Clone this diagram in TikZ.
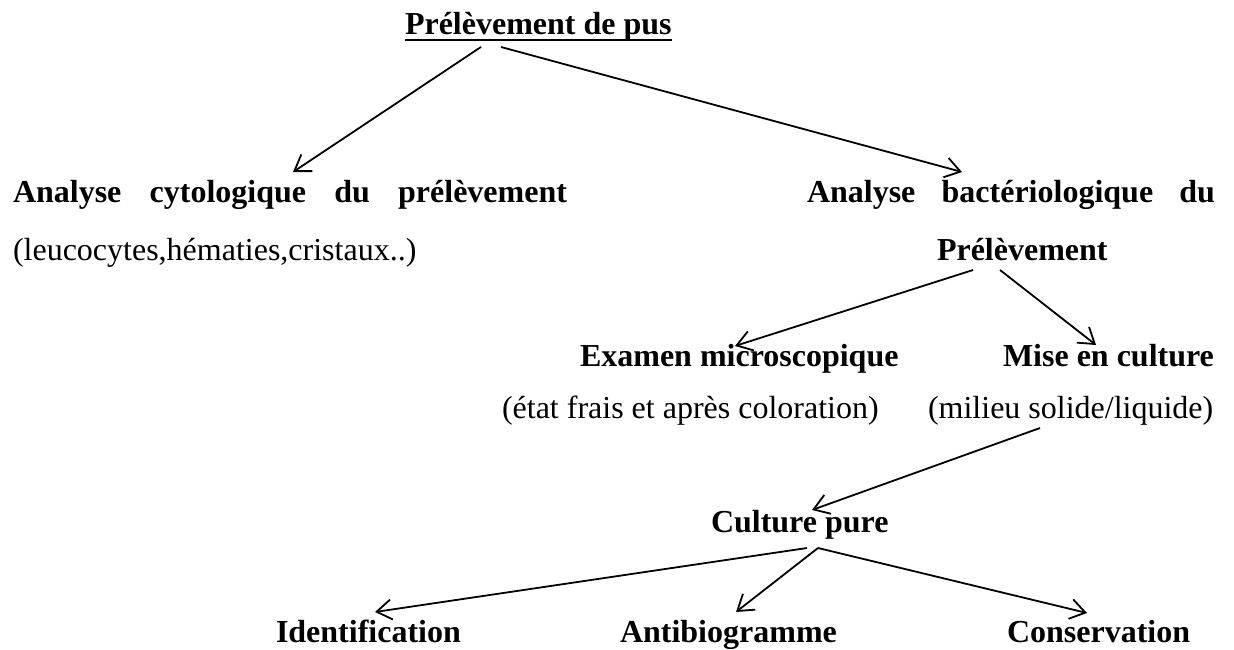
\documentclass[tikz,border=0pt]{standalone}
\usepackage{fontspec}
\setmainfont{Liberation Serif}
\usetikzlibrary{arrows.meta}
\begin{document}
\begin{tikzpicture}[x=1pt,y=-1pt,
  txt/.style={anchor=base west,inner sep=0pt,outer sep=0pt,font=\fontsize{32pt}{38pt}\selectfont},
  bold/.style={txt,font=\fontsize{32pt}{38pt}\selectfont\bfseries},
  arr/.style={line width=1.8pt,-{Straight Barb[length=15pt,width=20pt,line width=1.8pt]}}]
\useasboundingbox (0,0) rectangle (1234,650);
\fill[white] (0,0) rectangle (1234,650);
% nodes
\node[bold] (title) at (405,35) {Prélèvement de pus};
\draw[line width=2.4pt] ([yshift=-5pt]title.base west) -- ([yshift=-5pt]title.base east);
\node[bold] (cyto) at (13,202) {\makebox[554pt][l]{Analyse\hfill cytologique\hfill du\hfill prélèvement}};
\node[txt] (leuco) at (13,260) {(leucocytes,hématies,cristaux..)};
\node[bold] (bact) at (807,202) {\makebox[408pt][l]{Analyse\hfill bactériologique\hfill du}};
\node[bold] (prel) at (937,260) {Prélèvement};
\node[bold] (exam) at (580,366) {Examen microscopique};
\node[bold] (mise) at (1003,366) {Mise en culture};
\node[txt] (etat) at (502,418) {(état frais et après coloration)};
\node[txt] (milieu) at (928,418) {(milieu solide/liquide)};
\node[bold] (culture) at (711,532) {Culture pure};
\node[bold] (ident) at (276,642) {Identification};
\node[bold] (antibio) at (620,642) {Antibiogramme};
\node[bold] (conserv) at (1007,642) {Conservation};
% connectors
\draw[arr] ([shift={(76,12)}]title.base west) -- ([shift={(280,-30)}]cyto.base west);
\draw[arr] ([shift={(96,12)}]title.base west) -- ([shift={(155,-30)}]bact.base west);
\draw[arr] ([shift={(36,10)}]prel.base west) -- ([shift={(155,-20)}]exam.base west);
\draw[arr] ([shift={(63,10)}]prel.base west) -- ([shift={(93,-21)}]mise.base west);
\draw[arr] ([shift={(112,10)}]milieu.base west) -- ([shift={(101,-22)}]culture.base west);
\draw[arr] ([shift={(96,16)}]culture.base west) -- ([shift={(99,-30)}]ident.base west);
\draw[arr] ([shift={(107,16)}]culture.base west) -- ([shift={(116,-30)}]antibio.base west);
\draw[arr] ([shift={(107,16)}]culture.base west) -- ([shift={(80,-29)}]conserv.base west);
\end{tikzpicture}
\end{document}
